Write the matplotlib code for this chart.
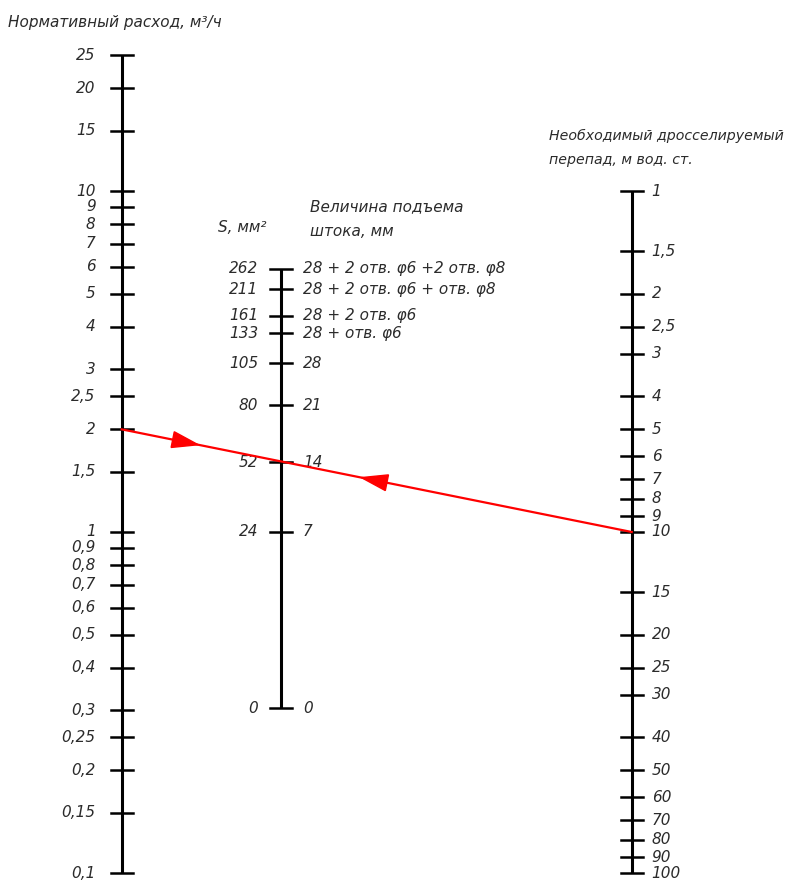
import numpy as np
import matplotlib
matplotlib.use("Agg")
import matplotlib.pyplot as plt
from matplotlib.patches import Polygon

# --- data -------------------------------------------------------------
# left scale: нормативный расход, м3/ч
flow_ticks = [0.1, 0.15, 0.2, 0.25, 0.3, 0.4, 0.5, 0.6, 0.7, 0.8, 0.9,
              1, 1.5, 2, 2.5, 3, 4, 5, 6, 7, 8, 9, 10, 15, 20, 25]
# right scale: дросселируемый перепад, м вод. ст.
drop_ticks = [1, 1.5, 2, 2.5, 3, 4, 5, 6, 7, 8, 9, 10,
              15, 20, 25, 30, 40, 50, 60, 70, 80, 90, 100]
# middle scale: пропускная способность (Kv) for each valve position
mid_kv = [0.053, 0.317, 0.64, 1.14, 1.75, 2.37, 2.82, 3.7, 4.54]
mid_area = ["0", "24", "52", "80", "105", "133", "161", "211", "262"]
mid_lift = ["0", "7", "14", "21", "28",
            "28 + отв. φ6",
            "28 + 2 отв. φ6",
            "28 + 2 отв. φ6 + отв. φ8",
            "28 + 2 отв. φ6 +2 отв. φ8"]
# example reading (red key line)
example_flow = 2
example_drop = 10

# --- geometry (pixel-like canvas) --------------------------------------
W, H = 795, 883
X_LEFT, X_MID, X_RIGHT = 121.7, 281, 631.7
DEC = 341.0           # px per decade
Y_Q1 = 532.0          # flow = 1
Y_H1 = 191.0          # drop = 1
TICK = 11
TXT = "#2b2b2b"
FONT = dict(family="DejaVu Sans", style="italic", fontsize=11, color=TXT)


def y_flow(q):
    return Y_Q1 - DEC * np.log10(q)


def y_drop(h):
    return Y_H1 + DEC * np.log10(h)


def y_kv(kv):
    # Q = Kv*sqrt(dP) -> middle line is a log Kv scale
    return (2 * Y_Q1 + Y_H1) / 3 - (2.0 / 3.0) * DEC * np.log10(kv)


def fmt(v):
    s = ("%g" % v).replace(".", ",")
    return s


fig = plt.figure(figsize=(W / 100, H / 100), dpi=100)
ax = fig.add_axes([0, 0, 1, 1])
ax.set_xlim(0, W)
ax.set_ylim(H, 0)
ax.axis("off")

lw_axis = 2.2
lw_tick = 1.8

# left scale
yq = y_flow(np.array(flow_ticks))
ax.plot([X_LEFT, X_LEFT], [yq.min(), yq.max()], color="black", lw=lw_axis,
        solid_capstyle="butt")
for v, y in zip(flow_ticks, yq):
    ax.plot([X_LEFT - TICK, X_LEFT + TICK], [y, y], color="black", lw=lw_tick)
    ax.text(X_LEFT - 26, y, fmt(v), ha="right", va="center", **FONT)

# right scale
yh = y_drop(np.array(drop_ticks))
ax.plot([X_RIGHT, X_RIGHT], [yh.min(), yh.max()], color="black", lw=lw_axis,
        solid_capstyle="butt")
for v, y in zip(drop_ticks, yh):
    ax.plot([X_RIGHT - TICK, X_RIGHT + TICK], [y, y], color="black", lw=lw_tick)
    ax.text(X_RIGHT + 20, y, fmt(v), ha="left", va="center", **FONT)

# middle scale
ym = y_kv(np.array(mid_kv))
ax.plot([X_MID, X_MID], [ym.min(), ym.max()], color="black", lw=lw_axis,
        solid_capstyle="butt")
for a, l, y in zip(mid_area, mid_lift, ym):
    ax.plot([X_MID - TICK, X_MID + TICK], [y, y], color="black", lw=lw_tick)
    ax.text(X_MID - 23, y, a, ha="right", va="center", **FONT)
    ax.text(X_MID + 22, y, l, ha="left", va="center", **FONT)

# titles
ax.text(8, 23, "Нормативный расход, м³/ч", ha="left", va="center", **FONT)
ax.text(218, 228, "S, мм²", ha="left", va="center", **FONT)
ax.text(310, 207, "Величина подъема", ha="left", va="center", **FONT)
ax.text(310, 231, "штока, мм", ha="left", va="center", **FONT)
rfont = dict(FONT, fontsize=10.2)
ax.text(549, 136, "Необходимый дросселируемый", ha="left", va="center", **rfont)
ax.text(549, 160, "перепад, м вод. ст.", ha="left", va="center", **rfont)

# example key line with arrows
p0 = np.array([X_LEFT, y_flow(example_flow)])
p1 = np.array([X_RIGHT, y_drop(example_drop)])
ax.plot([p0[0], p1[0]], [p0[1], p1[1]], color="#ff0000", lw=1.6, zorder=5)

d = (p1 - p0) / np.hypot(*(p1 - p0))
n = np.array([-d[1], d[0]])


def arrow_head(frac, direction):
    c = p0 + frac * (p1 - p0)
    dd = d * direction
    tip = c + dd * 13
    base = c - dd * 13
    pts = [tip, base + n * 8, base - n * 8]
    ax.add_patch(Polygon(pts, closed=True, color="#ff0000", zorder=6))


arrow_head(0.125, 1)
arrow_head(0.495, -1)

fig.savefig("out.png", dpi=100, facecolor="white")
